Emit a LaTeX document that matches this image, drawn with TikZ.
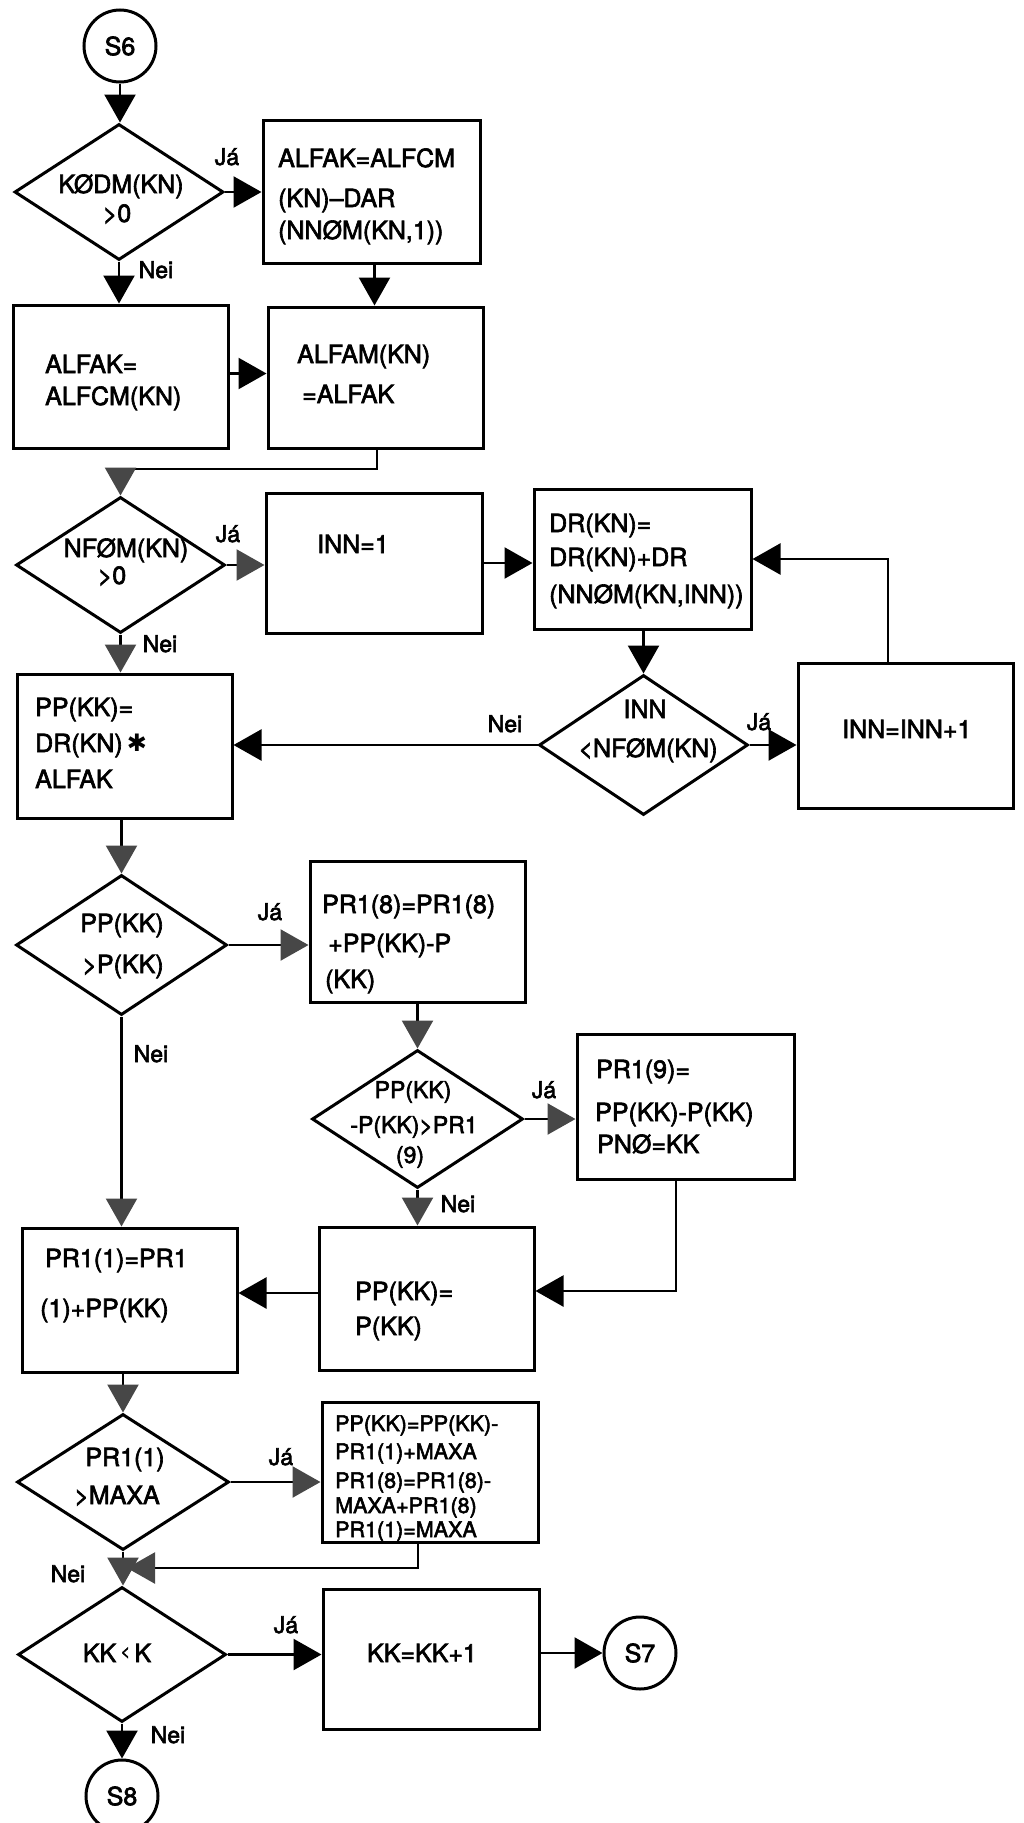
\documentclass[tikz,border=0pt]{standalone}
\usepackage{fontspec}
\usepackage{graphicx}
\setmainfont{TeX Gyre Heros}[FakeBold=2.6]
\newfontfamily\symfont{DejaVu Sans}
\usetikzlibrary{shapes.geometric,arrows.meta}
\newcommand{\bigast}{\raisebox{1pt}{{\symfont\fontsize{24pt}{24pt}\selectfont ✱}}}
\begin{document}
\begin{tikzpicture}[x=1pt,y=-1pt,
  box/.style={draw,line width=3pt,rectangle,inner sep=0pt},
  dec/.style={draw,line width=3pt,diamond,inner sep=0pt},
  term/.style={draw,line width=3pt,circle,inner sep=0pt,minimum size=72pt,font=\fontsize{25pt}{30pt}\selectfont},
  tl/.style={inner sep=0pt,anchor=base west,font=\fontsize{25pt}{30pt}\selectfont},
  tm/.style={inner sep=0pt,anchor=base,font=\fontsize{25pt}{30pt}\selectfont},
  ts/.style={inner sep=0pt,anchor=base west,font=\fontsize{21.5pt}{26pt}\selectfont},
  tsm/.style={inner sep=0pt,anchor=base,font=\fontsize{23pt}{26pt}\selectfont},
  lab/.style={inner sep=0pt,anchor=base,font=\fontsize{23pt}{26pt}\selectfont},
  arr/.style={line width=2.4pt,-{Triangle[length=28pt,width=31pt]}},
  garr/.style={line width=2.4pt,-{Triangle[length=28pt,width=31pt,color=black!72]}},
]
\useasboundingbox (0,0) rectangle (1023,1823);

% ---- shapes ----
\node[term] (s6) at (120,46) {S6};
\node[dec,minimum width=209pt,minimum height=136pt] (d1) at (119,192) {};
\node[box,minimum width=217pt,minimum height=143pt] (bA) at (371.5,191.5) {};
\node[box,minimum width=215pt,minimum height=143pt] (bB) at (120.5,376.5) {};
\node[box,minimum width=215pt,minimum height=141pt] (bC) at (375.5,377.5) {};

\node[dec,minimum width=209pt,minimum height=136pt] (d2) at (120.5,565) {};
\node[box,minimum width=216pt,minimum height=140pt] (bI) at (374,563) {};
\node[box,minimum width=217pt,minimum height=140pt] (bDR) at (642.5,559) {};
\node[dec,minimum width=209pt,minimum height=140pt] (d3i) at (643.5,745) {};
\node[box,minimum width=215pt,minimum height=145pt] (bInc) at (905.5,735.5) {};
\node[box,minimum width=215pt,minimum height=144pt] (bPP) at (124.5,746) {};

\node[dec,minimum width=211pt,minimum height=140pt] (d3) at (121.5,945) {};
\node[box,minimum width=215pt,minimum height=141pt] (bPR8) at (417.5,931.5) {};
\node[dec,minimum width=211pt,minimum height=138pt] (d4) at (417.5,1119) {};
\node[box,minimum width=217pt,minimum height=145pt] (bPR9) at (685.5,1106.5) {};
\node[box,minimum width=215pt,minimum height=143pt] (bPPP) at (426.5,1298.5) {};
\node[box,minimum width=215pt,minimum height=144pt] (bPR1) at (129.5,1300) {};

\node[dec,minimum width=212pt,minimum height=136pt] (d5) at (123,1482) {};
\node[box,minimum width=216pt,minimum height=140pt] (bMX) at (430,1472) {};
\node[dec,minimum width=208pt,minimum height=135pt] (d6) at (122,1654.5) {};
\node[box,minimum width=216pt,minimum height=140pt] (bKK) at (431,1659) {};
\node[term] (s7) at (640,1653) {S7};
\node[term] (s8) at (122,1796) {S8};

% ---- texts ----
\node[tm] (t1a) at (121,193) {KØDM(KN)};
\node[tm] (t1b) at (117,222) {>0};
\node[tl] (tAa) at (278,167) {ALFAK=ALFCM};
\node[tl] (tAb) at (278,207) {(KN)–DAR};
\node[tl] (tAc) at (278,239) {(NNØM(KN,1))};
\node[tl] (tBa) at (45,373) {ALFAK=};
\node[tl] (tBb) at (45,405) {ALFCM(KN)};
\node[tl] (tCa) at (297,363) {ALFAM(KN)};
\node[tl] (tCb) at (302,403) {=ALFAK};

\node[tm] (t2a) at (126,557) {NFØM(KN)};
\node[tm] (t2b) at (112,584) {>0};
\node[tl] (tIa) at (317,553) {INN=1};
\node[tl] (tDa) at (549,532) {DR(KN)=};
\node[tl] (tDb) at (549,566) {DR(KN)+DR};
\node[tl] (tDc) at (549,603) {(NNØM(KN,INN))};
\node[tm] (t3a) at (645,718) {INN};
\node[tm] (t3b) at (648,757) {<NFØM(KN)};
\node[tl] (tEa) at (842,738) {INN=INN+1};
\node[tl] (tPa) at (35,716) {PP(KK)=};
\node[tl] (tPb) at (35,752) {DR(KN)\,\bigast};
\node[tl] (tPc) at (35,788) {ALFAK};

\node[tm] (t4a) at (122,932) {PP(KK)};
\node[tm] (t4b) at (123,973) {>P(KK)};
\node[tl] (tFa) at (322,913) {PR1(8)=PR1(8)};
\node[tl] (tFb) at (328,952) {+PP(KK)-P};
\node[tl] (tFc) at (325,988) {(KK)};
\node[tsm] (t5a) at (413,1098) {PP(KK)};
\node[tsm] (t5b) at (414,1133) {-P(KK)>PR1};
\node[tsm] (t5c) at (410,1163) {(9)};
\node[tl] (tGa) at (596,1078) {PR1(9)=};
\node[tl] (tGb) at (595,1121) {PP(KK)-P(KK)};
\node[tl] (tGc) at (597,1153) {PNØ=KK};
\node[tl] (tHa) at (355,1300) {PP(KK)=};
\node[tl] (tHb) at (355,1335) {P(KK)};
\node[tl] (tJa) at (45,1267) {PR1(1)=PR1};
\node[tl] (tJb) at (40,1317) {(1)+PP(KK)};

\node[tm] (t6a) at (125,1466) {PR1(1)};
\node[tm] (t6b) at (117,1504) {>MAXA};
\node[ts] (tMa) at (335,1431) {PP(KK)=PP(KK)-};
\node[ts] (tMb) at (335,1459) {PR1(1)+MAXA};
\node[ts] (tMc) at (335,1488) {PR1(8)=PR1(8)-};
\node[ts] (tMd) at (335,1513) {MAXA+PR1(8)};
\node[ts] (tMe) at (335,1537) {PR1(1)=MAXA};
\node[tm] (t7a) at (117,1662) {KK\,\raisebox{5pt}{\fontsize{17pt}{17pt}\selectfont<}\,K};
\node[tm] (tKa) at (422,1662) {KK=KK+1};

% ---- branch labels ----
\node[lab] (l1) at (227,165) {Já};
\node[lab] (l2) at (156,278) {Nei};
\node[lab] (l3) at (228,542) {Já};
\node[lab] (l4) at (160,652) {Nei};
\node[lab] (l5) at (505,732) {Nei};
\node[lab] (l6) at (759,730) {Já};
\node[lab] (l7) at (270,920) {Já};
\node[lab] (l8) at (151,1062) {Nei};
\node[lab] (l9) at (544,1098) {Já};
\node[lab] (l10) at (458,1212) {Nei};
\node[lab] (l11) at (281,1465) {Já};
\node[lab] (l12) at (68,1582) {Nei};
\node[lab] (l13) at (286,1633) {Já};
\node[lab] (l14) at (168,1743) {Nei};

% ---- connectors ----
\coordinate (m1) at (120.5,469);
\coordinate (mj) at (127,1568);

\draw[arr] (s6.south) -- (s6.south |- d1.north);
\draw[arr] (d1.east) -- (d1.east -| bA.west);
\draw[arr] (d1.south) -- (d1.south |- bB.north);
\draw[arr] ([xshift=3pt]bA.south) -- ([xshift=3pt]bA.south |- bC.north);
\draw[arr] ([yshift=3pt]bB.east) -- ([yshift=3pt]bB.east -| bC.west);
\draw[garr] ([xshift=1.5pt]bC.south) |- (m1) -- (d2.north);

\draw[garr] (d2.east) -- (d2.east -| bI.west);
\draw[garr] (d2.south) -- (d2.south |- bPP.north);
\draw[arr] (bI.east) -- (bI.east -| bDR.west);
\draw[arr] (d3i.north |- bDR.south) -- (d3i.north);
\draw[arr] (d3i.east) -- (d3i.east -| bInc.west);
\draw[arr] (d3i.west) -- (d3i.west -| bPP.east);
\draw[arr] ([xshift=-17.5pt]bInc.north) |- (bDR.east);

\draw[garr] (d3.north |- bPP.south) -- (d3.north);
\draw[garr] (d3.east) -- (d3.east -| bPR8.west);
\draw[garr] (bPR8.south) -- (bPR8.south |- d4.north);
\draw[garr] (d4.east) -- (d4.east -| bPR9.west);
\draw[garr] (d4.south) -- (d4.south |- bPPP.north);
\draw[garr] (d3.south) -- (d3.south |- bPR1.north);
\draw[arr] ([yshift=5.5pt]bPPP.west) -- ([yshift=5.5pt]bPPP.west -| bPR1.east);
\draw[arr] ([xshift=-9.5pt]bPR9.south) |- ([yshift=7.5pt]bPPP.east);

\draw[garr] (d5.north |- bPR1.south) -- (d5.north);
\draw[garr] (d5.east) -- (d5.east -| bMX.west);
\draw[garr] ([xshift=-12pt]bMX.south) |- (mj);
\draw[garr] (d5.south) -- (d5.south |- d6.north);
\draw[arr] (d6.east) -- (d6.east -| bKK.west);
\draw[arr] (bKK.east |- s7.west) -- (s7.west);
\draw[arr] (d6.south) -- (d6.south |- s8.north);
\end{tikzpicture}
\end{document}
